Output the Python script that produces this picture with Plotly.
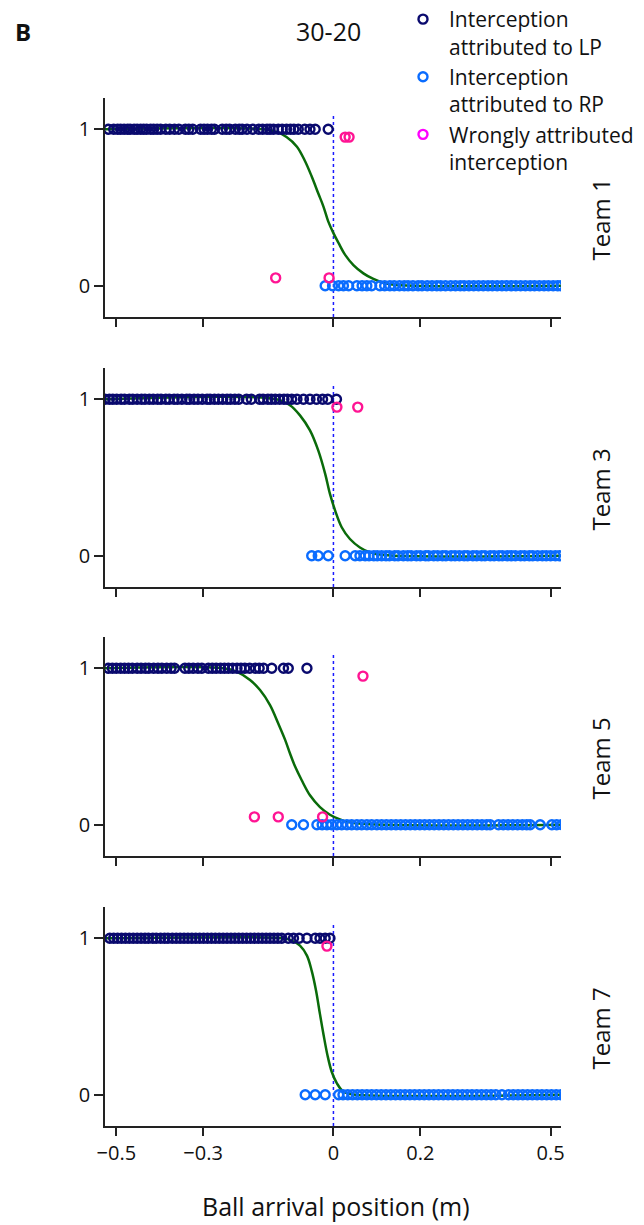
import plotly.graph_objects as go

# ---------------- data ----------------
teams = ["Team 1", "Team 3", "Team 5", "Team 7"]
tick_vals = [-0.5, -0.3, 0, 0.2, 0.5]
tick_text = ["\u22120.5", "\u22120.3", "0", "0.2", "0.5"]

# Interceptions attributed to LP (plotted at y = 1)
t1_lp = [-0.518, -0.506, -0.497, -0.49, -0.482, -0.474, -0.468, -0.459, -0.452, -0.444, -0.437, -0.43,
         -0.421, -0.414, -0.406, -0.398, -0.386, -0.377, -0.366, -0.356, -0.341, -0.333, -0.324, -0.306,
         -0.298, -0.29, -0.281, -0.274, -0.256, -0.247, -0.239, -0.226, -0.217, -0.21, -0.199, -0.186,
         -0.172, -0.163, -0.153, -0.146, -0.138, -0.127, -0.118, -0.108, -0.099, -0.091, -0.081, -0.066,
         -0.054, -0.042, -0.012]
t3_lp = [-0.526, -0.516, -0.508, -0.499, -0.489, -0.481, -0.47, -0.462, -0.452, -0.442, -0.434, -0.424,
         -0.415, -0.405, -0.397, -0.386, -0.378, -0.367, -0.359, -0.349, -0.338, -0.331, -0.321, -0.312,
         -0.302, -0.291, -0.284, -0.274, -0.265, -0.255, -0.245, -0.237, -0.227, -0.218, -0.2, -0.189,
         -0.17, -0.162, -0.151, -0.143, -0.134, -0.124, -0.114, -0.106, -0.096, -0.084, -0.069, -0.054,
         -0.039, -0.025, -0.013, 0.007]
t5_lp = [-0.518, -0.509, -0.5, -0.49, -0.481, -0.472, -0.463, -0.452, -0.443, -0.433, -0.425, -0.414,
         -0.404, -0.395, -0.384, -0.374, -0.366, -0.342, -0.333, -0.323, -0.312, -0.303, -0.288, -0.279,
         -0.27, -0.26, -0.251, -0.242, -0.232, -0.222, -0.213, -0.204, -0.193, -0.18, -0.171, -0.161,
         -0.142, -0.115, -0.104, -0.061]
t7_lp = [-0.515, -0.506, -0.497, -0.488, -0.479, -0.47, -0.461, -0.452, -0.443, -0.434, -0.426, -0.416,
         -0.408, -0.398, -0.389, -0.381, -0.371, -0.362, -0.353, -0.344, -0.335, -0.326, -0.317, -0.308,
         -0.299, -0.29, -0.281, -0.272, -0.263, -0.254, -0.245, -0.236, -0.227, -0.218, -0.209, -0.2,
         -0.191, -0.182, -0.173, -0.164, -0.155, -0.146, -0.137, -0.128, -0.119, -0.104, -0.092, -0.079,
         -0.061, -0.042, -0.031, -0.019, -0.008]

# Interceptions attributed to RP (plotted at y = 0)
t1_rp = [-0.019, -0.002, 0.012, 0.023, 0.035, 0.054, 0.066, 0.077, 0.088, 0.107, 0.118, 0.13, 0.14,
         0.152, 0.163, 0.172, 0.183, 0.195, 0.204, 0.216, 0.227, 0.238, 0.247, 0.258, 0.27, 0.281, 0.292,
         0.301, 0.312, 0.323, 0.334, 0.345, 0.356, 0.366, 0.377, 0.388, 0.398, 0.41, 0.42, 0.431, 0.442,
         0.453, 0.463, 0.474, 0.485, 0.495, 0.506, 0.516, 0.525]
t3_rp = [-0.05, -0.035, -0.012, 0.027, 0.05, 0.061, 0.073, 0.082, 0.093, 0.101, 0.111, 0.121, 0.129,
         0.141, 0.149, 0.161, 0.171, 0.179, 0.191, 0.2, 0.212, 0.219, 0.231, 0.24, 0.251, 0.259, 0.271,
         0.28, 0.29, 0.301, 0.309, 0.321, 0.33, 0.341, 0.349, 0.361, 0.37, 0.381, 0.389, 0.4, 0.41, 0.419,
         0.431, 0.44, 0.451, 0.459, 0.47, 0.481, 0.49, 0.5, 0.511, 0.52]
t5_rp = [-0.096, -0.069, -0.038, -0.026, -0.015, -0.004, 0.008, 0.019, 0.031, 0.042, 0.054, 0.065,
         0.077, 0.088, 0.1, 0.111, 0.122, 0.133, 0.144, 0.155, 0.166, 0.177, 0.188, 0.199, 0.21, 0.221,
         0.232, 0.243, 0.254, 0.265, 0.276, 0.287, 0.298, 0.309, 0.32, 0.331, 0.342, 0.353, 0.361, 0.38,
         0.391, 0.402, 0.413, 0.424, 0.435, 0.445, 0.453, 0.476, 0.503, 0.514, 0.526]
t7_rp = [-0.065, -0.042, -0.019, 0.012, 0.022, 0.033, 0.044, 0.055, 0.066, 0.077, 0.088, 0.099, 0.11,
         0.121, 0.132, 0.143, 0.154, 0.165, 0.176, 0.187, 0.198, 0.209, 0.22, 0.231, 0.242, 0.253, 0.264,
         0.275, 0.286, 0.297, 0.308, 0.319, 0.33, 0.341, 0.352, 0.363, 0.374, 0.388, 0.403, 0.414, 0.425,
         0.436, 0.447, 0.458, 0.469, 0.48, 0.491, 0.502, 0.513, 0.524]

# Wrongly attributed interceptions
t1_wx = [-0.133, -0.01, 0.027, 0.036]
t1_wy = [0.05, 0.05, 0.95, 0.95]
t3_wx = [0.008, 0.056]
t3_wy = [0.95, 0.95]
t5_wx = [-0.182, -0.127, -0.025, 0.068]
t5_wy = [0.05, 0.05, 0.05, 0.95]
t7_wx = [-0.015]
t7_wy = [0.95]

# Fitted psychometric curves
t1_cx = [-0.526, -0.161, -0.131, -0.108, -0.084, -0.065, -0.05, -0.035, -0.023, -0.012, 0.0, 0.012,
         0.027, 0.046, 0.069, 0.092, 0.115, 0.146, 0.525]
t1_cy = [1.0, 1.0, 0.983, 0.951, 0.889, 0.794, 0.698, 0.591, 0.506, 0.411, 0.336, 0.272,
         0.197, 0.132, 0.079, 0.043, 0.019, 0.004, 0.0]
t3_cx = [-0.526, -0.131, -0.1, -0.077, -0.054, -0.035, -0.019, -0.008, 0.004, 0.019, 0.038, 0.061,
         0.084, 0.115, 0.525]
t3_cy = [1.0, 1.0, 0.962, 0.897, 0.801, 0.673, 0.523, 0.395, 0.288, 0.182, 0.107, 0.053,
         0.021, 0.004, 0.0]
t5_cx = [-0.526, -0.253, -0.223, -0.192, -0.169, -0.146, -0.127, -0.111, -0.1, -0.088, -0.073, -0.054,
         -0.031, -0.008, 0.015, 0.046, 0.525]
t5_cy = [1.0, 1.0, 0.979, 0.925, 0.861, 0.765, 0.647, 0.541, 0.455, 0.37, 0.284, 0.188,
         0.113, 0.064, 0.034, 0.011, 0.0]
t7_cx = [-0.526, -0.115, -0.1, -0.077, -0.061, -0.05, -0.04, -0.031, -0.023, -0.014, -0.004, 0.008,
         0.023, 0.046, 0.525]
t7_cy = [1.0, 1.0, 0.99, 0.953, 0.889, 0.792, 0.665, 0.515, 0.387, 0.256, 0.147, 0.073,
         0.019, 0.002, 0.0]

lp_sets = [t1_lp, t3_lp, t5_lp, t7_lp]
rp_sets = [t1_rp, t3_rp, t5_rp, t7_rp]
wrong_x = [t1_wx, t3_wx, t5_wx, t7_wx]
wrong_y = [t1_wy, t3_wy, t5_wy, t7_wy]
curve_x = [t1_cx, t3_cx, t5_cx, t7_cx]
curve_y = [t1_cy, t3_cy, t5_cy, t7_cy]
boundary = 0

# ---------------- style ----------------
NAVY = "#0a0a6e"
BLUE = "#0a6cff"
PINK = "#ff1493"
MAGENTA = "#ff00ff"
GREEN = "#0a6b0a"
AXIS = "#222222"
TXT = "#111111"
FONT = "Open Sans"
MSIZE, MLW = 9, 2.4

W, H = 644, 1225
L, R, T, B = 105, 83, 98, 99
plot_w = W - L - R
plot_h = H - T - B
panels_px = [(98, 317), (368, 587), (637, 856), (907, 1126)]


def fy(px):
    return (H - B - px) / plot_h


def fx(px):
    return (px - L) / plot_w


fig = go.Figure()
layout = dict()
shapes = []
annotations = []

for i in range(4):
    n = "" if i == 0 else str(i + 1)
    xa, ya = "x" + n, "y" + n
    fig.add_trace(go.Scatter(x=curve_x[i], y=curve_y[i], mode="lines",
                             line=dict(color=GREEN, width=2.5, shape="spline", smoothing=1.0),
                             xaxis=xa, yaxis=ya, showlegend=False, hoverinfo="skip"))
    fig.add_trace(go.Scatter(x=lp_sets[i], y=[1] * len(lp_sets[i]), mode="markers",
                             marker=dict(symbol="circle-open", size=MSIZE, color=NAVY, line=dict(width=MLW)),
                             xaxis=xa, yaxis=ya, showlegend=False))
    fig.add_trace(go.Scatter(x=rp_sets[i], y=[0] * len(rp_sets[i]), mode="markers",
                             marker=dict(symbol="circle-open", size=MSIZE, color=BLUE, line=dict(width=MLW)),
                             xaxis=xa, yaxis=ya, showlegend=False))
    fig.add_trace(go.Scatter(x=wrong_x[i], y=wrong_y[i], mode="markers",
                             marker=dict(symbol="circle-open", size=MSIZE, color=PINK, line=dict(width=MLW)),
                             xaxis=xa, yaxis=ya, showlegend=False))
    top, bot = panels_px[i]
    layout["xaxis" + n] = dict(domain=[0, 1], anchor=ya, range=[-0.526, 0.524],
                               tickvals=tick_vals, ticktext=tick_text, showticklabels=(i == 3),
                               ticks="outside", ticklen=8, tickwidth=1.5, tickcolor=AXIS,
                               showline=True, linecolor=AXIS, linewidth=1.5,
                               showgrid=False, zeroline=False,
                               tickfont=dict(family=FONT, size=20, color=TXT))
    layout["yaxis" + n] = dict(domain=[fy(bot), fy(top)], anchor=xa, range=[-0.2, 1.2],
                               tickvals=[0, 1], ticktext=["0", "1"],
                               ticks="outside", ticklen=9, tickwidth=1.5, tickcolor=AXIS,
                               showline=True, linecolor=AXIS, linewidth=1.5,
                               showgrid=False, zeroline=False,
                               tickfont=dict(family=FONT, size=20, color=TXT))
    shapes.append(dict(type="line", xref=xa, yref=ya, x0=boundary, x1=boundary, y0=-0.2, y1=1.1,
                       line=dict(color="#1a1aff", width=1.5, dash="dot"), layer="below"))
    annotations.append(dict(text=teams[i], xref="paper", yref="paper",
                            x=fx(600), y=fy((top + bot) / 2 + 12),
                            textangle=-90, showarrow=False, xanchor="center", yanchor="middle",
                            font=dict(family=FONT, size=24, color=TXT)))

# legend entries
legend_names = ["Interception<br>attributed to LP", "Interception<br>attributed to RP",
                "Wrongly attributed<br>interception"]
legend_colors = [NAVY, BLUE, MAGENTA]
for name, col in zip(legend_names, legend_colors):
    fig.add_trace(go.Scatter(x=[None], y=[None], mode="markers", name=name,
                             marker=dict(symbol="circle-open", size=MSIZE, color=col, line=dict(width=MLW)),
                             xaxis="x", yaxis="y", showlegend=True))

annotations.append(dict(text="30-20", xref="paper", yref="paper", x=fx(328), y=fy(31),
                        showarrow=False, xanchor="center", yanchor="middle",
                        font=dict(family=FONT, size=25, color=TXT)))
annotations.append(dict(text="<b>B</b>", xref="paper", yref="paper", x=fx(23), y=fy(31),
                        showarrow=False, xanchor="center", yanchor="middle",
                        font=dict(family=FONT, size=24, color=TXT)))
annotations.append(dict(text="Ball arrival position (m)", xref="paper", yref="paper",
                        x=fx(336), y=fy(1206),
                        showarrow=False, xanchor="center", yanchor="middle",
                        font=dict(family=FONT, size=25, color=TXT)))

fig.update_layout(
    width=W, height=H,
    margin=dict(l=L, r=R, t=T, b=B, autoexpand=False),
    plot_bgcolor="white", paper_bgcolor="white",
    shapes=shapes, annotations=annotations,
    showlegend=True,
    legend=dict(x=fx(397), y=fy(-1), xanchor="left", yanchor="top",
                valign="top", font=dict(family=FONT, size=21, color=TXT),
                bgcolor="rgba(0,0,0,0)", tracegroupgap=0, itemwidth=42),
    **layout,
)

fig.write_html("out.html", config={"displayModeBar": False},
               post_script="document.body.style.margin='0px';")
